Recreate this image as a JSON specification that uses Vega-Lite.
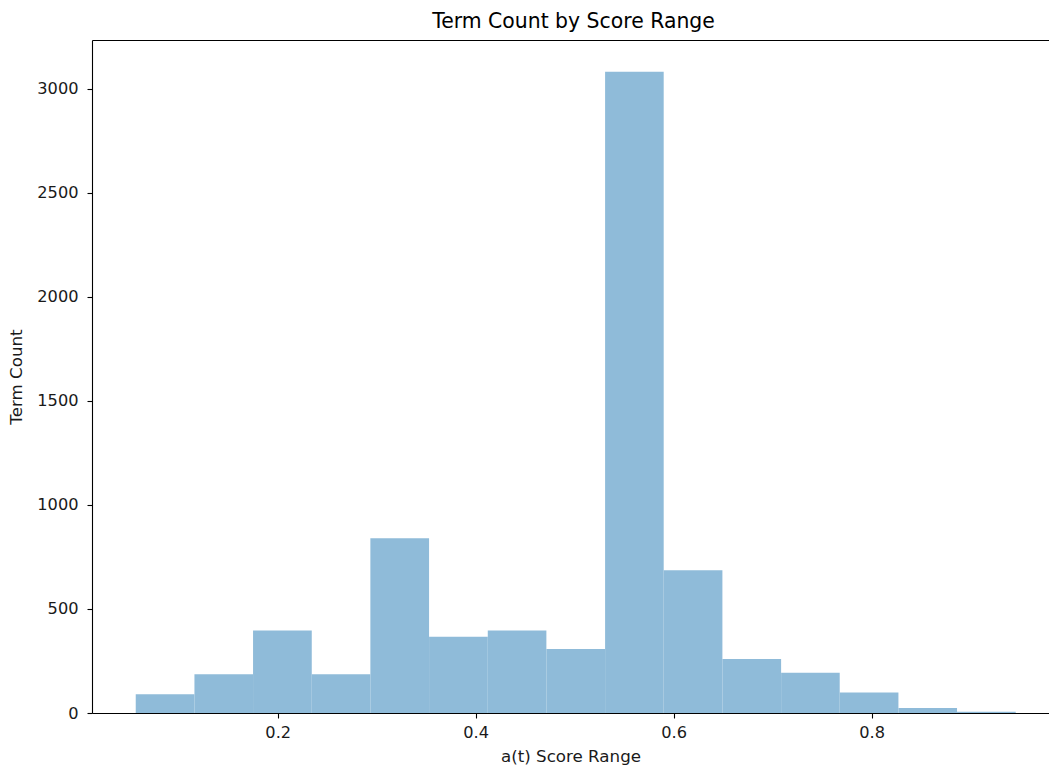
{
  "$schema": "https://vega.github.io/schema/vega-lite/v6.json",
  "width": 957,
  "height": 673,
  "autosize": {"type": "none"},
  "padding": {"left": 92, "top": 40, "right": 0, "bottom": 54},
  "title": {
    "text": "Term Count by Score Range",
    "font": "DejaVu Sans",
    "fontSize": 20.4,
    "fontWeight": "normal",
    "color": "#000000",
    "anchor": "middle",
    "offset": 8,
    "dx": 3
  },
  "data": {
    "values": [
      {"bin_start": 0.0566, "bin_end": 0.1159, "count": 90},
      {"bin_start": 0.1159, "bin_end": 0.1751, "count": 186},
      {"bin_start": 0.1751, "bin_end": 0.2344, "count": 397},
      {"bin_start": 0.2344, "bin_end": 0.2936, "count": 186},
      {"bin_start": 0.2936, "bin_end": 0.3529, "count": 840},
      {"bin_start": 0.3529, "bin_end": 0.4122, "count": 367},
      {"bin_start": 0.4122, "bin_end": 0.4714, "count": 397},
      {"bin_start": 0.4714, "bin_end": 0.5307, "count": 307},
      {"bin_start": 0.5307, "bin_end": 0.5899, "count": 3082},
      {"bin_start": 0.5899, "bin_end": 0.6492, "count": 686},
      {"bin_start": 0.6492, "bin_end": 0.7085, "count": 259},
      {"bin_start": 0.7085, "bin_end": 0.7677, "count": 193},
      {"bin_start": 0.7677, "bin_end": 0.827, "count": 99},
      {"bin_start": 0.827, "bin_end": 0.8862, "count": 24},
      {"bin_start": 0.8862, "bin_end": 0.9455, "count": 6}
    ]
  },
  "layer": [
    {
      "mark": {"type": "rect", "color": "#8fbbd9"},
      "encoding": {
        "x": {
          "field": "bin_start",
          "type": "quantitative",
          "scale": {"domain": [0.01242, 0.9791], "nice": false, "zero": false},
          "axis": {
            "values": [0.2, 0.4, 0.6, 0.8],
            "format": ".1f",
            "title": "a(t) Score Range",
            "titlePadding": 8,
            "labelPadding": 6
          }
        },
        "x2": {"field": "bin_end"},
        "y": {
          "field": "count",
          "type": "quantitative",
          "scale": {"domain": [0, 3234], "nice": false},
          "axis": {
            "values": [0, 500, 1000, 1500, 2000, 2500, 3000],
            "format": "d",
            "title": "Term Count",
            "titlePadding": 11,
            "labelPadding": 9
          }
        }
      }
    },
    {
      "mark": {"type": "point", "opacity": 0},
      "encoding": {
        "x": {
          "field": "bin_start",
          "type": "quantitative",
          "axis": {
            "orient": "top",
            "labels": false,
            "ticks": false,
            "title": null,
            "domainColor": "#000000"
          }
        }
      }
    }
  ],
  "resolve": {"axis": {"x": "independent"}},
  "config": {
    "view": {"stroke": null},
    "axis": {
      "grid": false,
      "domainColor": "#000000",
      "domainWidth": 1.1,
      "tickColor": "#000000",
      "tickWidth": 1.1,
      "tickSize": 5,
      "labelColor": "#1a1a1a",
      "titleColor": "#1a1a1a",
      "labelFont": "DejaVu Sans",
      "titleFont": "DejaVu Sans",
      "labelFontSize": 16.2,
      "titleFontSize": 16.7,
      "titleFontWeight": "normal",
      "labelFlush": false,
      "labelOverlap": false
    }
  }
}
